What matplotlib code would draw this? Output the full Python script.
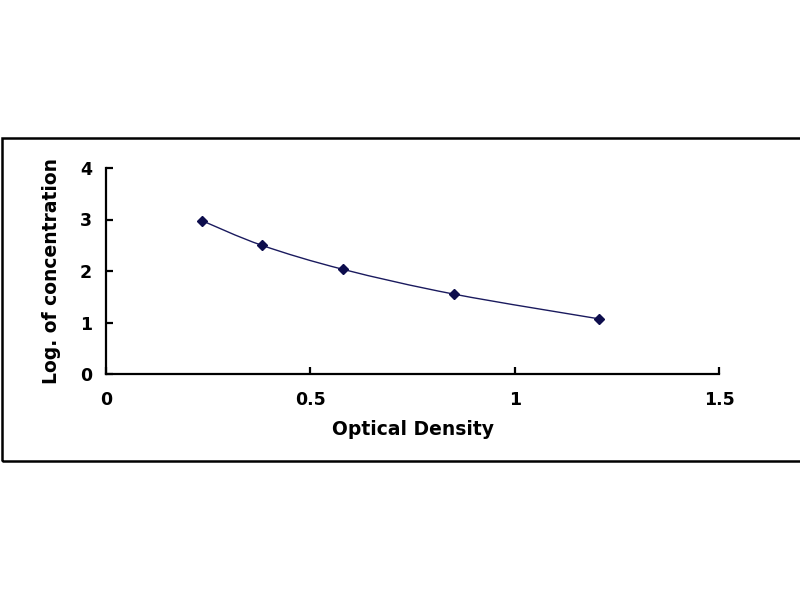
import matplotlib
matplotlib.use("Agg")
import matplotlib.pyplot as plt
from matplotlib.path import Path
from matplotlib.patches import PathPatch, Rectangle
import numpy as np

# data
od = [0.234, 0.381, 0.581, 0.852, 1.207]
logc = [2.98, 2.50, 2.03, 1.55, 1.07]
xticks = [0, 0.5, 1, 1.5]
xticklabels = ["0", "0.5", "1", "1.5"]
yticks = [0, 1, 2, 3, 4]
xlabel = "Optical Density"
ylabel = "Log. of concentration"

plt.rcParams['font.family'] = ['DejaVu Sans']
plt.rcParams['font.weight'] = 'bold'

fig = plt.figure(figsize=(8, 6), dpi=100)
fig.patch.set_facecolor('white')
ax = fig.add_axes([106/800, 1-374/600, (719-106)/800, (374-168)/600])

# smooth curve through points (Catmull-Rom -> cubic Bezier)
pts = np.column_stack([od, logc])
verts = [tuple(pts[0])]
codes = [Path.MOVETO]
n = len(pts)
for i in range(n-1):
    p0 = pts[i-1] if i > 0 else pts[i]
    p1 = pts[i]
    p2 = pts[i+1]
    p3 = pts[i+2] if i+2 < n else pts[i+1]
    c1 = p1 + (p2 - p0) / 6.0
    c2 = p2 - (p3 - p1) / 6.0
    verts += [tuple(c1), tuple(c2), tuple(p2)]
    codes += [Path.CURVE4]*3
path = Path(verts, codes)
ax.add_patch(PathPatch(path, facecolor='none', edgecolor='#1a1a5e', lw=1.0, transform=ax.transData))
ax.plot(od, logc, linestyle='none', marker='D', markersize=5.5, color='#0d0d4d')

ax.set_xlim(0, 1.5)
ax.set_ylim(0, 4)
ax.set_xticks(xticks)
ax.set_xticklabels(xticklabels)
ax.set_yticks(yticks)
for s in ['top', 'right']:
    ax.spines[s].set_visible(False)
for s in ['left', 'bottom']:
    ax.spines[s].set_linewidth(1.6)
ax.tick_params(axis='both', direction='in', length=5, width=1.6, labelsize=12.5)
ax.tick_params(axis='x', pad=12)
ax.tick_params(axis='y', pad=10)
for lab in ax.get_xticklabels() + ax.get_yticklabels():
    lab.set_fontweight('bold')
ax.set_xlabel(xlabel, fontsize=13.5, fontweight='bold', labelpad=8)
ax.set_ylabel(ylabel, fontsize=13.5, fontweight='bold', labelpad=14)

# outer border of chart area
fig.patches.append(Rectangle((2/800, 1-461/600), 1.0, (461-138)/600,
                             transform=fig.transFigure, fill=False,
                             edgecolor='black', lw=1.8))

fig.savefig("out.png", dpi=100)
